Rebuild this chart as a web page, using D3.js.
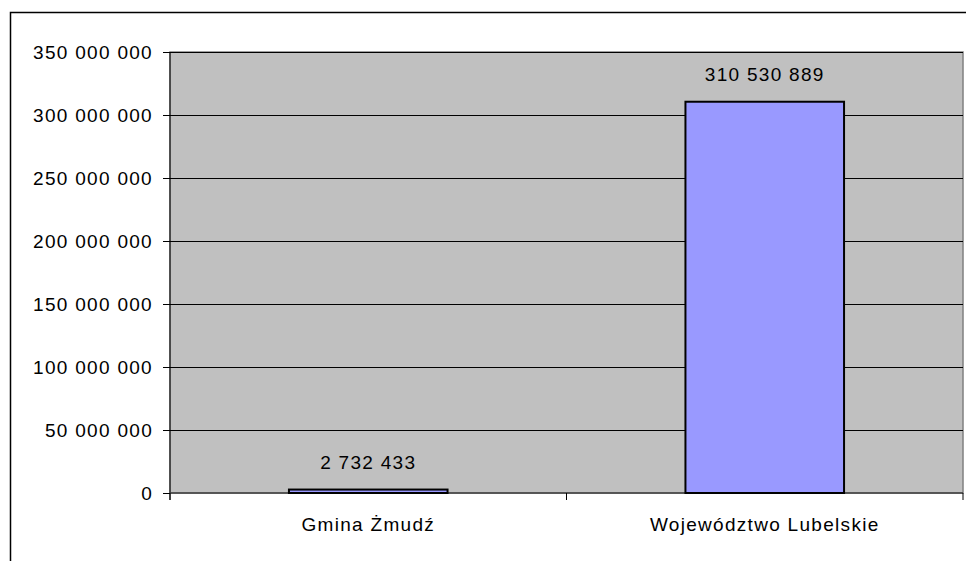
<!DOCTYPE html>
<html>
<head>
<meta charset="utf-8">
<script src="https://cdn.jsdelivr.net/npm/d3@7"></script>
<style>
  body { margin: 0; background: #fff; }
  svg { display: block; font-family: "Liberation Sans", Arial, sans-serif; }
</style>
</head>
<body>
<svg width="966" height="561"></svg>
<script>
// dane
var categories = ["Gmina Żmudź", "Województwo Lubelskie"];
var values = [2732433, 310530889];
var yTicks = [0, 50000000, 100000000, 150000000, 200000000, 250000000, 300000000, 350000000];

var width = 966;
var height = 561;
var margin = {top: 52, right: 3, bottom: 68, left: 170};
var fontSize = 19;
var spacing = "1.3px";

var svg = d3.select("svg");

// ramka wykresu
svg.append("rect")
  .attr("x", 10.5).attr("y", 12.5)
  .attr("width", 980).attr("height", 600)
  .attr("fill", "#fff").attr("stroke", "#000").attr("stroke-width", 1.5);

var x = d3.scaleBand()
  .domain(categories)
  .range([margin.left, width - margin.right])
  .paddingInner(0.6).paddingOuter(0.3);

var y = d3.scaleLinear()
  .domain([0, 350000000])
  .range([height - margin.bottom, margin.top]);

var fmt = function(v) { return d3.format(",")(v).replace(/,/g, " "); };

// tło
svg.append("rect")
  .attr("x", margin.left).attr("y", margin.top)
  .attr("width", width - margin.right - margin.left)
  .attr("height", y(0) - margin.top)
  .attr("fill", "#c0c0c0").attr("stroke", "#808080").attr("stroke-width", 1.5);

// linie siatki
svg.selectAll(".grid")
  .data(yTicks.filter(function(d) { return d > 0; }))
  .enter().append("line")
  .attr("class", "grid")
  .attr("x1", margin.left).attr("x2", width - margin.right)
  .attr("y1", function(d) { return Math.round(y(d)) + 0.5; })
  .attr("y2", function(d) { return Math.round(y(d)) + 0.5; })
  .attr("stroke", "#000").attr("stroke-width", 1);

// oś Y
var yAxis = svg.append("g")
  .attr("transform", "translate(" + margin.left + ",0)")
  .call(d3.axisLeft(y).tickValues(yTicks).tickFormat(fmt).tickSize(7).tickPadding(10));
yAxis.attr("font-size", fontSize).attr("font-family", "Liberation Sans, Arial, sans-serif");
yAxis.selectAll("text").attr("fill", "#000").style("letter-spacing", spacing);
yAxis.selectAll("line").attr("stroke", "#000");
yAxis.select(".domain").attr("stroke", "#000").attr("d", "M0," + margin.top + "V" + (y(0) + 7));

// oś X
var xBase = y(0);
svg.append("line")
  .attr("x1", margin.left).attr("x2", width - margin.right)
  .attr("y1", xBase).attr("y2", xBase)
  .attr("stroke", "#404040").attr("stroke-width", 1.5);
var bounds = [margin.left, (margin.left + width - margin.right) / 2, width - margin.right];
svg.selectAll(".xtick")
  .data(bounds)
  .enter().append("line")
  .attr("x1", function(d) { return d; }).attr("x2", function(d) { return d; })
  .attr("y1", xBase).attr("y2", xBase + 7)
  .attr("stroke", "#000");

svg.selectAll(".xlabel")
  .data(categories)
  .enter().append("text")
  .attr("x", function(d) { return x(d) + x.bandwidth() / 2; })
  .attr("y", xBase + 38)
  .attr("text-anchor", "middle")
  .attr("font-size", fontSize)
  .style("letter-spacing", spacing)
  .text(function(d) { return d; });

// słupki
svg.selectAll(".bar")
  .data(values)
  .enter().append("rect")
  .attr("class", "bar")
  .attr("x", function(d, i) { return x(categories[i]); })
  .attr("width", x.bandwidth())
  .attr("y", function(d) { return y(d); })
  .attr("height", function(d) { return y(0) - y(d); })
  .attr("fill", "#9999ff").attr("stroke", "#000").attr("stroke-width", 2);

// etykiety wartości
svg.selectAll(".val")
  .data(values)
  .enter().append("text")
  .attr("x", function(d, i) { return x(categories[i]) + x.bandwidth() / 2; })
  .attr("y", function(d) { return y(d) - 21; })
  .attr("text-anchor", "middle")
  .attr("font-size", fontSize)
  .style("letter-spacing", spacing)
  .text(fmt);
</script>
</body>
</html>
